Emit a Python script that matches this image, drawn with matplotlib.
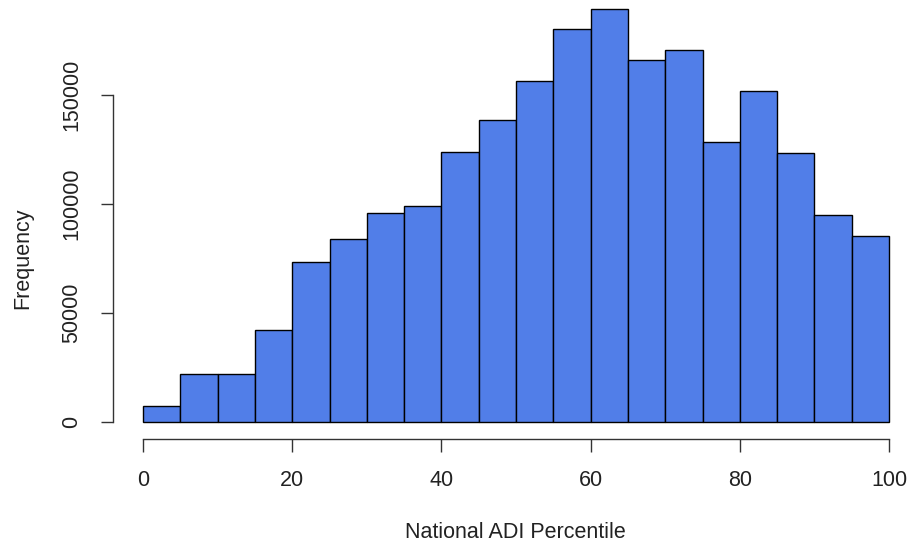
import matplotlib
matplotlib.use("Agg")
import matplotlib.pyplot as plt

# ── Data (bin counts) ─────────────────────────────────────────────────────────
bin_edges = [0, 5, 10, 15, 20, 25, 30, 35, 40, 45, 50,
             55, 60, 65, 70, 75, 80, 85, 90, 95, 100]
counts = [7400, 22000, 22000, 42200, 73400, 83900, 95900, 99100, 123900, 138500,
          156400, 180300, 189400, 166000, 170600, 128400, 151800, 123400, 95000, 85300]
x_ticks = [0, 20, 40, 60, 80, 100]
y_ticks = [0, 50000, 100000, 150000]

BAR_COLOR = "#517EE8"
FS = 15.5

plt.rcParams["font.family"] = ["Liberation Sans", "DejaVu Sans"]

W, H = 914, 548
fig = plt.figure(figsize=(W / 100, H / 100), dpi=100)
ax = fig.add_axes([0, 0, 1, 1])

# pixel -> data mapping
px_per_x = (889 - 143) / 100
px_per_y = (422 - 95) / 150000
ax.set_xlim(-143 / px_per_x, (W - 143) / px_per_x)
ax.set_ylim(-(H - 422) / px_per_y, 422 / px_per_y)

lefts = bin_edges[:-1]
widths = [b - a for a, b in zip(bin_edges[:-1], bin_edges[1:])]
ax.bar(lefts, counts, width=widths, align="edge", color=BAR_COLOR,
       edgecolor="black", linewidth=1.0)

# R-style detached axes
for s in ("top", "right"):
    ax.spines[s].set_visible(False)
ax.spines["left"].set_position(("data", (113 - 143) / px_per_x))
ax.spines["left"].set_bounds(0, 150000)
ax.spines["bottom"].set_position(("data", -(439 - 422) / px_per_y))
ax.spines["bottom"].set_bounds(0, 100)
for s in ("left", "bottom"):
    ax.spines[s].set_linewidth(1.0)
    ax.spines[s].set_color("#333333")

ax.set_xticks(x_ticks)
ax.set_yticks(y_ticks)
ax.set_xticklabels([str(v) for v in x_ticks])
ax.set_yticklabels([str(v) for v in y_ticks])
ax.tick_params(axis="both", direction="out", length=9, width=1.0,
               color="#333333", labelsize=FS, labelcolor="#222222")
ax.tick_params(axis="x", pad=13)
ax.tick_params(axis="y", pad=13)
for lab in ax.get_yticklabels():
    lab.set_rotation(90)
    lab.set_va("center")
    lab.set_ha("right")

fig.text(515.5 / W, 1 - 532 / H, "National ADI Percentile", ha="center", va="center",
         fontsize=FS, color="#222222")
fig.text(23 / W, 1 - 258 / H, "Frequency", ha="center", va="center",
         rotation=90, fontsize=FS, color="#222222")

fig.savefig("out.png", dpi=100)
